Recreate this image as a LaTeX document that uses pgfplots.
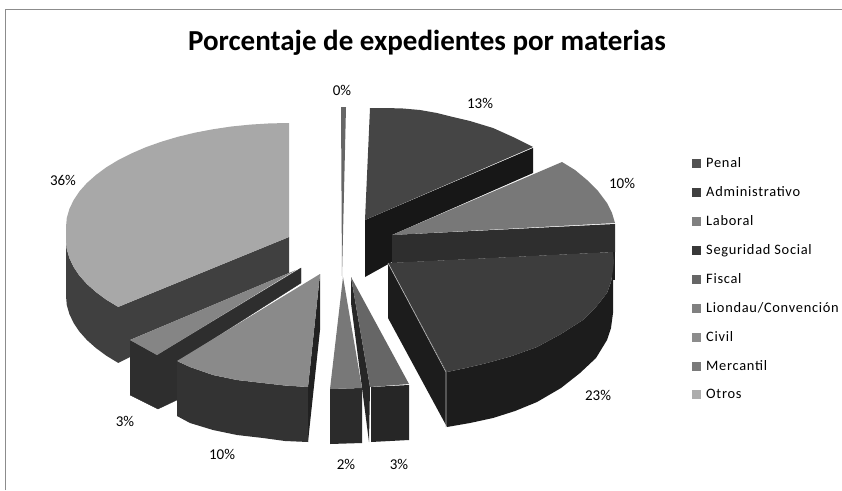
\documentclass[border=0pt]{standalone}
\usepackage{pgfplots}
\pgfplotsset{compat=1.18}
\usepackage{fontspec}
\setmainfont{Carlito}
\newfontfamily\legfont[LetterSpace=5]{Carlito}
\newcommand{\lab}{\fontsize{15}{17}\selectfont}
\newcommand{\lgd}[1]{\hspace{4pt}#1}
\begin{document}
\begin{tikzpicture}[x=1pt,y=1pt]
\path[use as bounding box] (0,0) rectangle (842,490);
\begin{axis}[
  at={(0,0)},anchor=south west,
  scale only axis,width=842pt,height=490pt,
  xmin=0,xmax=842,ymin=0,ymax=490,y dir=reverse,
  axis lines=none,clip=false,
  legend style={at={(axis cs:692,155)},anchor=north west,draw=none,fill=none,
    font=\legfont\fontsize{14.4}{15}\selectfont,
    row sep=13.5pt,inner sep=0pt},
  legend cell align=left,
  every axis plot/.append style={forget plot,draw=none},
]
% frame
\addplot[draw=black!45,line width=1.6pt,no marks] coordinates {(5.5,490) (5.5,9.5) (842,9.5)};
% Otros side
\addplot[fill=black!75] coordinates {(66,240)(66.8,249.1)(69.4,258.1)(73.6,266.9)(79.4,275.6)(86.9,284)(95.9,292)(106.3,299.7)(118.2,306.9)(289,237)(289,273)(130,340)(130,357)(118.2,362.9)(106.3,355.7)(95.9,348)(86.9,340)(79.4,331.6)(73.6,322.9)(69.4,314.1)(66.8,305.1)(66,296)};
% Otros top
\addplot[fill=black!34] coordinates {(289,123)(269.6,123.4)(250.3,124.6)(231.3,126.5)(212.7,129.3)(194.8,132.7)(177.5,136.9)(161.1,141.8)(145.6,147.3)(131.3,153.5)(118.2,160.1)(106.3,167.3)(95.9,175)(86.9,183)(79.4,191.4)(73.6,200.1)(69.4,208.9)(66.8,217.9)(66,227)(66,240)(66.8,249.1)(69.4,258.1)(73.6,266.9)(79.4,275.6)(86.9,284)(95.9,292)(106.3,299.7)(118.2,306.9)(289,237)};
% Mercantil 3%
\addplot[fill=black!82,draw=black!82,line width=0.3pt] coordinates {(130,340)(157,355)(301,268)(301,283)(177,362)(177,400)(158,409)(130,395)};
\addplot[fill=black!48] coordinates {(130,340)(157,355)(296,270)};
% Civil 10%
\addplot[fill=black!80] coordinates {(177,361)(190,367)(213,375)(237,380)(263,383)(285,385.5)(308,387)(308,442)(285,441)(263,438)(237,435)(213,430)(190,423)(177,416)};
\addplot[fill=black!87] coordinates {(320,274)(308,387)(308,442)(320,330)};
\addplot[fill=black!46] coordinates {(320,274)(177,361)(190,367)(213,375)(237,380)(263,383)(285,385.5)(308,387)};
% 0%
\addplot[fill=black!60] coordinates {(341,107)(346,107)(342,277)};
% Administrativo 13%
\addplot[fill=black!91] coordinates {(365,220)(533,148)(533,173)(392,235)(392,262)(365,277)};
\addplot[fill=black!73] coordinates {(370,108)(386,108)(403,108.5)(420,110)(437,113)(453,117)(470,121)(493,128)(513,137)(533,147)(365,220)};
% Laboral 10%
\addplot[fill=black!53] coordinates {(392,235)(562,162)(575,170)(587,180)(598,191)(607,203)(612,213)(615,223)};
\addplot[fill=black!82] coordinates {(392,235)(615,224)(615,252)(392,263)};
\addplot[fill=black!88] coordinates {(612,252)(615,252)(615,280)(612,280)};
% Seguridad Social 23%
\addplot[fill=black!89] coordinates {(388,263)(447,372)(466,368)(487,363)(512,356)(537,347)(561,334)(583,320)(596,307)(607,293)(611,282)(613,270)(613,313)(611,328)(607,340)(596,358)(580,373)(561,388)(537,402)(515,411)(493,418)(470,423)(447,427)(388,318)};
\addplot[fill=black!76] coordinates {(388,263)(613,252)(614,262)(613,270)(611,282)(607,293)(596,307)(583,320)(561,334)(537,347)(512,356)(487,363)(466,368)(447,372)};
\addplot[draw=black!25,line width=0.6pt,no marks] coordinates {(388,263)(446,372)(446,427)};
% Fiscal 3%
\addplot[fill=black!85] coordinates {(351,277)(370,387)(369,442)(351,303)};
\addplot[fill=black!85] coordinates {(371,387)(409,385)(409,440)(371,442)};
\addplot[fill=black!60] coordinates {(351,277)(409,384)(370,387)};
% Liondau 2%
\addplot[fill=black!83] coordinates {(330,389)(362,388)(362,443)(330,444)};
\addplot[fill=black!53] coordinates {(343,277)(330,389)(362,388)};
% labels
\node[font=\lab] at (axis cs:342,90) {0\%};
\node[font=\lab] at (axis cs:480,103) {13\%};
\node[font=\lab] at (axis cs:622,183) {10\%};
\node[font=\lab] at (axis cs:598,395) {23\%};
\node[font=\lab] at (axis cs:399,464) {3\%};
\node[font=\lab] at (axis cs:346,464) {2\%};
\node[font=\lab] at (axis cs:222,454) {10\%};
\node[font=\lab] at (axis cs:125,421) {3\%};
\node[font=\lab] at (axis cs:63,180) {36\%};
\node[font=\bfseries\fontsize{29}{32}\selectfont] at (axis cs:427,43) {Porcentaje de expedientes por materias};
% legend
\addlegendimage{only marks,mark=square*,mark size=4pt,black!68}\addlegendentry{\lgd{Penal}}
\addlegendimage{only marks,mark=square*,mark size=4pt,black!75}\addlegendentry{\lgd{Administrativo}}
\addlegendimage{only marks,mark=square*,mark size=4pt,black!50}\addlegendentry{\lgd{Laboral}}
\addlegendimage{only marks,mark=square*,mark size=4pt,black!78}\addlegendentry{\lgd{Seguridad Social}}
\addlegendimage{only marks,mark=square*,mark size=4pt,black!60}\addlegendentry{\lgd{Fiscal}}
\addlegendimage{only marks,mark=square*,mark size=4pt,black!50}\addlegendentry{\lgd{Liondau/Convención}}
\addlegendimage{only marks,mark=square*,mark size=4pt,black!45}\addlegendentry{\lgd{Civil}}
\addlegendimage{only marks,mark=square*,mark size=4pt,black!52}\addlegendentry{\lgd{Mercantil}}
\addlegendimage{only marks,mark=square*,mark size=4pt,black!32}\addlegendentry{\lgd{Otros}}
\end{axis}
\end{tikzpicture}
\end{document}
